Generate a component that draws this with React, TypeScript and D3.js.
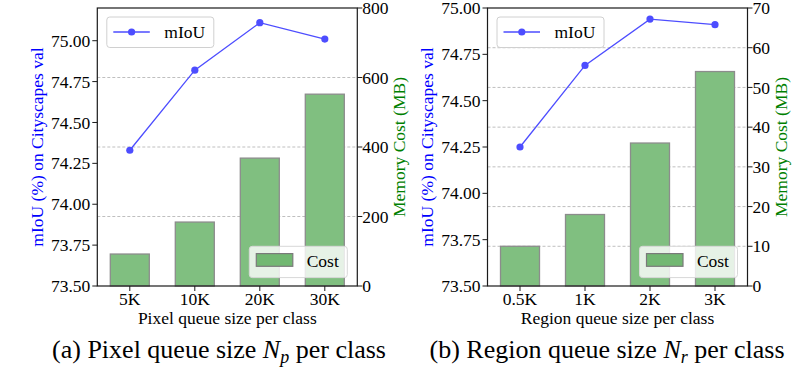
import React from 'react';
import { scaleBand, scaleLinear, line } from 'd3';

const pixelQueue = ['5K', '10K', '20K', '30K'];
const pixelMiou = [74.33, 74.82, 75.11, 75.01];
const pixelCost = [92, 184, 368, 552];
const pixelMiouTicks = [73.5, 73.75, 74.0, 74.25, 74.5, 74.75, 75.0];
const pixelCostTicks = [0, 200, 400, 600, 800];

const regionQueue = ['0.5K', '1K', '2K', '3K'];
const regionMiou = [74.25, 74.69, 74.94, 74.91];
const regionCost = [10, 18, 36, 54];
const regionMiouTicks = [73.5, 73.75, 74.0, 74.25, 74.5, 74.75, 75.0];
const regionCostTicks = [0, 10, 20, 30, 40, 50, 60, 70];

const W = 797;
const H = 369;
const fs = 17.5;
const font = '"Liberation Serif", "Times New Roman", serif';
const plotW = 260;
const plotH = 278;
const top = 8;
const lineColor = '#4d4dff';

interface PanelProps {
  left: number;
  cats: string[];
  miou: number[];
  cost: number[];
  miouMax: number;
  miouTicks: number[];
  costTicks: number[];
  xLabel: string;
}

const Panel: React.FC<PanelProps> = ({ left, cats, miou, cost, miouMax, miouTicks, costTicks, xLabel }) => {
  const x0 = left;
  const x1 = left + plotW;
  const y0 = top;
  const y1 = top + plotH;

  const x = scaleBand<string>().domain(cats).range([x0, x1]).paddingInner(0.4).paddingOuter(0.2);
  const yL = scaleLinear().domain([73.5, miouMax]).range([y1, y0]);
  const yR = scaleLinear()
    .domain([0, costTicks[costTicks.length - 1]])
    .range([y1, y0]);

  const pts = miou.map((v, i) => [x(cats[i])! + x.bandwidth() / 2, yL(v)] as [number, number]);
  const path = line()(pts) || '';

  // widths of the widest tick labels, for placing the axis titles
  const rightTickW = String(costTicks[costTicks.length - 1]).length * 0.5 * fs;
  const leftTickW = 2.25 * fs;
  const rightLabelX = x1 + 5 + rightTickW + 5 + 0.662 * fs;
  const leftLabelX = x0 - 7 - leftTickW - 8;
  const midY = (y0 + y1) / 2;

  // legend boxes
  const lgX = x0 + 9.5;
  const lgY = y0 + 9;
  const cgX = x1 - 108;
  const cgY = y1 - 39.7;

  return (
    <g>
      {/* grid from the cost axis */}
      {costTicks.slice(1, -1).map(t => (
        <line key={'g' + t} x1={x0} x2={x1} y1={yR(t)} y2={yR(t)} stroke="#b8b8b8" strokeWidth={0.9} strokeDasharray="3,2" />
      ))}
      {/* bars */}
      {cost.map((v, i) => (
        <rect
          key={'b' + i}
          x={x(cats[i])}
          y={yR(v)}
          width={x.bandwidth()}
          height={y1 - yR(v)}
          fill="#80bf80"
          stroke="#8c8c8c"
          strokeWidth={1.3}
        />
      ))}
      {/* spines */}
      <rect x={x0} y={y0} width={plotW} height={plotH} fill="none" stroke="#1a1a1a" strokeWidth={1.2} />
      {/* left ticks */}
      {miouTicks.map(t => (
        <g key={'l' + t}>
          <line x1={x0 - 5} x2={x0} y1={yL(t)} y2={yL(t)} stroke="#1a1a1a" strokeWidth={1} />
          <text x={x0 - 7} y={yL(t)} dy="0.35em" textAnchor="end" fontSize={fs} fontFamily={font}>
            {t.toFixed(2)}
          </text>
        </g>
      ))}
      {/* right ticks */}
      {costTicks.map(t => (
        <g key={'r' + t}>
          <line x1={x1} x2={x1 + 5} y1={yR(t)} y2={yR(t)} stroke="#1a1a1a" strokeWidth={1} />
          <text x={x1 + 5} y={yR(t)} dy="0.35em" textAnchor="start" fontSize={fs} fontFamily={font}>
            {t}
          </text>
        </g>
      ))}
      {/* bottom ticks */}
      {cats.map(c => {
        const cx = x(c)! + x.bandwidth() / 2;
        return (
          <g key={'x' + c}>
            <line x1={cx} x2={cx} y1={y1} y2={y1 + 5} stroke="#1a1a1a" strokeWidth={1} />
            <text x={cx} y={y1 + 19} textAnchor="middle" fontSize={fs} fontFamily={font}>
              {c}
            </text>
          </g>
        );
      })}
      <text x={(x0 + x1) / 2} y={y1 + 37.5} textAnchor="middle" fontSize={fs} fontFamily={font}>
        {xLabel}
      </text>
      <text
        transform={`translate(${leftLabelX},${midY}) rotate(-90)`}
        textAnchor="middle"
        fontSize={fs}
        fontFamily={font}
        fill="#0000ff"
      >
        mIoU (%) on Cityscapes val
      </text>
      <text
        transform={`translate(${rightLabelX},${midY}) rotate(-90)`}
        textAnchor="middle"
        fontSize={fs}
        fontFamily={font}
        fill="#008000"
      >
        Memory Cost (MB)
      </text>
      {/* mIoU line */}
      <path d={path} fill="none" stroke={lineColor} strokeWidth={1.3} />
      {pts.map((p, i) => (
        <circle key={'m' + i} cx={p[0]} cy={p[1]} r={3.6} fill={lineColor} />
      ))}
      {/* mIoU legend */}
      <rect x={lgX} y={lgY} width={107} height={30.5} rx={3} fill="#fff" fillOpacity={0.8} stroke="#d0d0d0" strokeWidth={1} />
      <line x1={lgX + 6.5} x2={lgX + 43} y1={lgY + 15} y2={lgY + 15} stroke={lineColor} strokeWidth={1.3} />
      <circle cx={lgX + 24.8} cy={lgY + 15} r={3.6} fill={lineColor} />
      <text x={lgX + 57.5} y={lgY + 21.2} fontSize={fs} fontFamily={font}>
        mIoU
      </text>
      {/* Cost legend */}
      <rect x={cgX} y={cgY} width={98} height={31.3} rx={3} fill="#fff" fillOpacity={0.8} stroke="#d8d8d8" strokeWidth={1} />
      <rect x={cgX + 7} y={cgY + 7.3} width={36.5} height={12.7} fill="#72b872" stroke="#7a7a7a" strokeWidth={1.2} />
      <text x={cgX + 57.4} y={cgY + 21} fontSize={fs} fontFamily={font}>
        Cost
      </text>
    </g>
  );
};

const Caption: React.FC<{ cx: number; label: string; name: string; sub: string }> = ({ cx, label, name, sub }) => (
  <text x={cx} y={358} textAnchor="middle" fontSize={26} fontFamily={font}>
    {`(${label}) ${name} queue size `}
    <tspan fontStyle="italic">N</tspan>
    <tspan fontStyle="italic" fontSize={18} dy={5}>
      {sub}
    </tspan>
    <tspan dy={-5}>{' per class'}</tspan>
  </text>
);

export default function App() {
  return (
    <svg width={W} height={H} style={{ position: 'absolute', left: 0, top: 0, background: '#fff' }}>
      <Panel
        left={97.3}
        cats={pixelQueue}
        miou={pixelMiou}
        cost={pixelCost}
        miouMax={75.2}
        miouTicks={pixelMiouTicks}
        costTicks={pixelCostTicks}
        xLabel="Pixel queue size per class"
      />
      <Panel
        left={487.5}
        cats={regionQueue}
        miou={regionMiou}
        cost={regionCost}
        miouMax={75.0}
        miouTicks={regionMiouTicks}
        costTicks={regionCostTicks}
        xLabel="Region queue size per class"
      />
      <Caption cx={219} label="a" name="Pixel" sub="p" />
      <Caption cx={607} label="b" name="Region" sub="r" />
    </svg>
  );
}
